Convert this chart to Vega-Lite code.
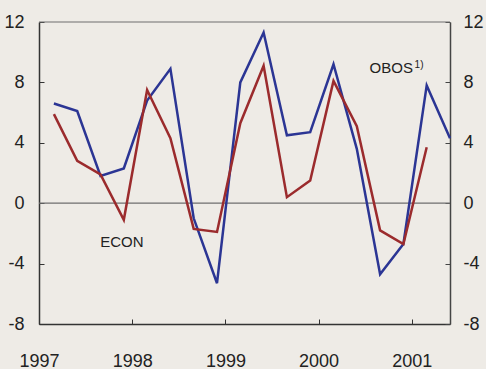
{
  "$schema": "https://vega.github.io/schema/vega-lite/v6.json",
  "width": 411,
  "height": 302,
  "autosize": "none",
  "padding": {"left": 39, "top": 22, "right": 36, "bottom": 45},
  "background": "#eeebe6",
  "config": {"view": {"stroke": null}, "font": "Liberation Sans, Arial, sans-serif"},
  "datasets": {
    "series": [
      {"t": 1997.16, "s": "OBOS", "v": 6.6},
      {"t": 1997.41, "s": "OBOS", "v": 6.1},
      {"t": 1997.66, "s": "OBOS", "v": 1.8},
      {"t": 1997.91, "s": "OBOS", "v": 2.3},
      {"t": 1998.16, "s": "OBOS", "v": 6.8},
      {"t": 1998.41, "s": "OBOS", "v": 8.9},
      {"t": 1998.66, "s": "OBOS", "v": -1.0},
      {"t": 1998.91, "s": "OBOS", "v": -5.3},
      {"t": 1999.16, "s": "OBOS", "v": 8.0},
      {"t": 1999.41, "s": "OBOS", "v": 11.3},
      {"t": 1999.66, "s": "OBOS", "v": 4.5},
      {"t": 1999.91, "s": "OBOS", "v": 4.7},
      {"t": 2000.16, "s": "OBOS", "v": 9.2},
      {"t": 2000.41, "s": "OBOS", "v": 3.6},
      {"t": 2000.66, "s": "OBOS", "v": -4.7},
      {"t": 2000.91, "s": "OBOS", "v": -2.7},
      {"t": 2001.16, "s": "OBOS", "v": 7.8},
      {"t": 2001.41, "s": "OBOS", "v": 4.3},
      {"t": 1997.16, "s": "ECON", "v": 5.9},
      {"t": 1997.41, "s": "ECON", "v": 2.8},
      {"t": 1997.66, "s": "ECON", "v": 1.9},
      {"t": 1997.91, "s": "ECON", "v": -1.1},
      {"t": 1998.16, "s": "ECON", "v": 7.5},
      {"t": 1998.41, "s": "ECON", "v": 4.3},
      {"t": 1998.66, "s": "ECON", "v": -1.7},
      {"t": 1998.91, "s": "ECON", "v": -1.9},
      {"t": 1999.16, "s": "ECON", "v": 5.3},
      {"t": 1999.41, "s": "ECON", "v": 9.1},
      {"t": 1999.66, "s": "ECON", "v": 0.4},
      {"t": 1999.91, "s": "ECON", "v": 1.5},
      {"t": 2000.16, "s": "ECON", "v": 8.1},
      {"t": 2000.41, "s": "ECON", "v": 5.1},
      {"t": 2000.66, "s": "ECON", "v": -1.8},
      {"t": 2000.91, "s": "ECON", "v": -2.7},
      {"t": 2001.16, "s": "ECON", "v": 3.7}
    ],
    "labels": [
      {"t": 1997.89, "v": -2.88, "txt": "ECON"},
      {"t": 2000.78, "v": 8.64, "txt": "OBOS"}
    ],
    "sup": [
      {"t": 2001.03, "v": 8.95, "txt": "1)"}
    ]
  },
  "layer": [
    {
      "data": {"values": [{"v": 0}]},
      "mark": {"type": "rule", "color": "#6e6e6e", "strokeWidth": 1.2},
      "encoding": {
        "y": {"field": "v", "type": "quantitative", "scale": {"domain": [-8, 12], "nice": false}, "axis": null}
      }
    },
    {
      "data": {"values": [{"v": 12}]},
      "mark": {"type": "rule", "color": "#6e6e6e", "strokeWidth": 1.2},
      "encoding": {
        "y": {"field": "v", "type": "quantitative", "scale": {"domain": [-8, 12], "nice": false},
          "axis": {"orient": "right", "values": [-8, -4, 0, 4, 8, 12], "title": null, "grid": false,
            "domainColor": "#444", "domainWidth": 1.5, "tickColor": "#444", "tickSize": -5, "tickWidth": 1,
            "labelExpr": "'' + datum.value",
            "labelFontSize": 18, "labelColor": "#222", "labelPadding": 18, "labelFlush": false}}
      }
    },
    {
      "data": {"name": "series"},
      "mark": {"type": "line", "strokeWidth": 2.5, "strokeJoin": "miter"},
      "encoding": {
        "x": {"field": "t", "type": "quantitative", "scale": {"domain": [1997, 2001.41], "nice": false, "zero": false},
          "axis": {"values": [1997, 1998, 1999, 2000, 2001], "format": "d", "title": null, "grid": false,
            "domainColor": "#333", "domainWidth": 1.5, "tickColor": "#333", "tickSize": -5, "tickWidth": 1,
            "labelFontSize": 18, "labelColor": "#222", "labelPadding": 33, "labelFlush": false, "labelOverlap": false}},
        "y": {"field": "v", "type": "quantitative", "scale": {"domain": [-8, 12], "nice": false},
          "axis": {"orient": "left", "values": [-8, -4, 0, 4, 8, 12], "title": null, "grid": false,
            "domainColor": "#333", "domainWidth": 1.5, "tickColor": "#333", "tickSize": -5, "tickWidth": 1,
            "labelExpr": "'' + datum.value",
            "labelFontSize": 18, "labelColor": "#222", "labelPadding": 20, "labelFlush": false}},
        "color": {"field": "s", "type": "nominal", "scale": {"domain": ["OBOS", "ECON"], "range": ["#2b3594", "#9b2b2d"]}, "legend": null}
      }
    },
    {
      "data": {"name": "labels"},
      "mark": {"type": "text", "fontSize": 15, "color": "#222", "align": "center", "baseline": "alphabetic"},
      "encoding": {
        "x": {"field": "t", "type": "quantitative"},
        "y": {"field": "v", "type": "quantitative", "axis": null},
        "text": {"field": "txt"}
      }
    },
    {
      "data": {"name": "sup"},
      "mark": {"type": "text", "fontSize": 10, "color": "#222", "align": "left", "baseline": "alphabetic"},
      "encoding": {
        "x": {"field": "t", "type": "quantitative"},
        "y": {"field": "v", "type": "quantitative", "axis": null},
        "text": {"field": "txt"}
      }
    }
  ],
  "resolve": {"axis": {"y": "independent"}}
}
